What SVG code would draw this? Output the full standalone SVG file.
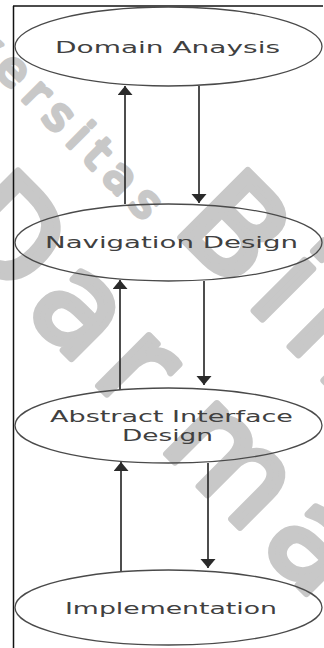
<svg xmlns="http://www.w3.org/2000/svg" width="324" height="648" viewBox="0 0 324 648">
  <defs>
    <marker id="arrow" markerUnits="userSpaceOnUse" markerWidth="10" markerHeight="16" refX="9" refY="7.5" orient="auto">
      <path d="M0,0 L9,7.5 L0,15 z" fill="#2a2a2a"/>
    </marker>
  </defs>
  <style>
    .frame { stroke: #111; stroke-width: 1.5; fill: none; }
    .mark { font-family: "DejaVu Sans", "Liberation Sans", sans-serif; fill: #c8c8c8; stroke: #c8c8c8; stroke-linejoin: round; stroke-linecap: round; }
    .node ellipse { fill: none; stroke: #4a4a4a; stroke-width: 1.3; }
    .node text { font-family: "DejaVu Sans", "Liberation Sans", sans-serif; font-size: 16.5px; fill: #404040; }
    .link { stroke: #2e2e2e; stroke-width: 1.7; fill: none; marker-end: url(#arrow); }
  </style>
  <rect width="324" height="648" fill="#fff"/>

  <!-- diagonal watermark lettering -->
  <g id="watermark" transform="rotate(45)">
    <text class="mark" x="-98" y="55" font-size="46" letter-spacing="10" stroke-width="4">Universitas</text>
    <text class="mark" x="283" y="40" font-size="130" letter-spacing="15" stroke-width="7">Bina</text>
    <text class="mark" x="121" y="203" font-size="130" letter-spacing="15" stroke-width="7">Dar<tspan dx="30">ma</tspan></text>
  </g>

  <!-- page frame -->
  <g id="frame">
    <line class="frame" x1="13.5" y1="6" x2="13.5" y2="648"/>
    <line class="frame" x1="13" y1="6" x2="323" y2="6"/>
  </g>

  <g id="connectors">
    <line class="link" x1="125" y1="204" x2="125" y2="86"/>
    <line class="link" x1="199" y1="86" x2="199" y2="203"/>
    <line class="link" x1="120" y1="390" x2="120" y2="280"/>
    <line class="link" x1="204" y1="281" x2="204" y2="385"/>
    <line class="link" x1="121" y1="572" x2="121" y2="462"/>
    <line class="link" x1="208" y1="463" x2="208" y2="568"/>
  </g>

  <g id="domain-analysis" class="node">
    <ellipse cx="168.5" cy="46.5" rx="153.5" ry="39.5"/>
    <text x="55" y="53" textLength="225" lengthAdjust="spacingAndGlyphs">Domain Anaysis</text>
  </g>

  <g id="navigation-design" class="node">
    <ellipse cx="168.5" cy="242.5" rx="153.5" ry="38.5"/>
    <text x="45" y="248" textLength="253" lengthAdjust="spacingAndGlyphs">Navigation Design</text>
  </g>

  <g id="abstract-interface-design" class="node">
    <ellipse cx="168.5" cy="425.5" rx="153.5" ry="37.5"/>
    <text x="50" y="422" textLength="243" lengthAdjust="spacingAndGlyphs">Abstract Interface</text>
    <text x="122" y="441" textLength="91" lengthAdjust="spacingAndGlyphs">Design</text>
  </g>

  <g id="implementation" class="node">
    <ellipse cx="168.5" cy="607.5" rx="153.5" ry="37.5"/>
    <text x="65" y="614" textLength="212" lengthAdjust="spacingAndGlyphs">Implementation</text>
  </g>
</svg>
